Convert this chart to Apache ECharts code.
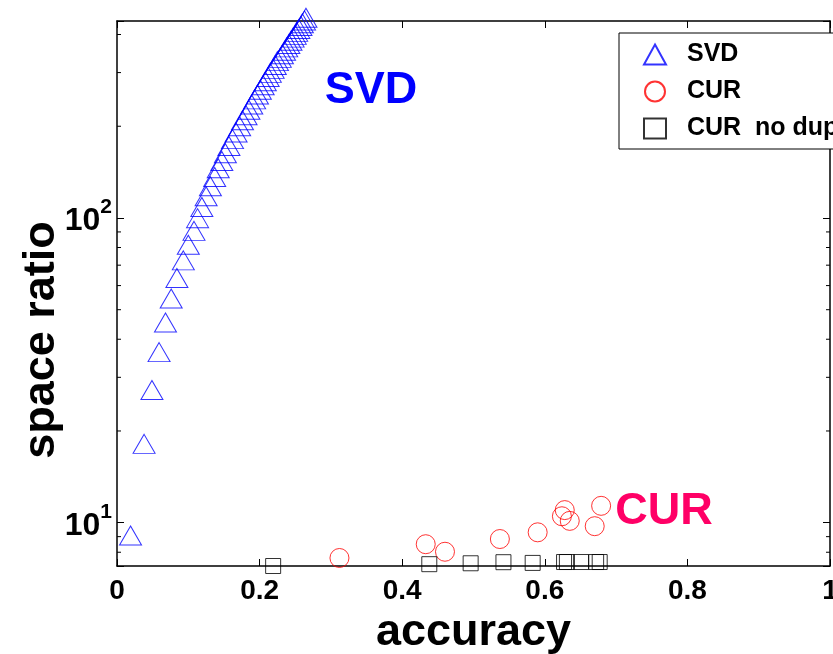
<!DOCTYPE html>
<html><head><meta charset="utf-8">
<script src="https://cdn.jsdelivr.net/npm/echarts@6/dist/echarts.min.js"></script>
<style>html,body{margin:0;padding:0;background:#fff}#c{width:833px;height:654px}</style>
</head><body><div id="c"></div>
<script>
const FONT = '"Liberation Sans", Arial, Helvetica, sans-serif';

// SVD (blue triangles)
const svdAccuracy = [0.019,0.038,0.049,0.059,0.068,0.076,0.084,0.093,0.100,0.108,
  0.113,0.119,0.125,0.131,0.137,0.142,0.147,0.152,0.157,0.162,
  0.167,0.172,0.176,0.181,0.185,0.189,0.193,0.197,0.201,0.205,
  0.208,0.212,0.215,0.219,0.222,0.225,0.229,0.232,0.235,0.238,
  0.241,0.244,0.247,0.250,0.252,0.255,0.258,0.260,0.263,0.265];
const svdRatio = [8.85,17.7,26.6,35.4,44.3,53.1,62.0,70.8,79.7,88.5,
  97.4,106,115,124,133,142,150,159,168,177,
  186,195,204,212,221,230,239,248,257,266,
  274,283,292,301,310,319,327,336,345,354,
  363,372,381,389,398,407,416,425,434,443];

// CUR (red circles)
const curAccuracy = [0.312,0.433,0.460,0.537,0.590,0.624,0.628,0.635,0.670,0.679];
const curRatio    = [7.66,8.50,8.03,8.84,9.30,10.5,11.0,10.14,9.74,11.36];

// CUR no dup (black squares)
const noDupAccuracy = [0.219,0.438,0.496,0.542,0.583,0.627,0.631,0.651,0.672,0.677];
const noDupRatio    = [7.21,7.31,7.36,7.42,7.38,7.43,7.43,7.43,7.43,7.43];

const seriesNames = ['SVD', 'CUR', 'CUR  no dup'];
const yMinorTicks = [8,9,20,30,40,50,60,70,80,90,200,300,400];
const Y_MIN = 7.21, Y_MAX = 443;

const zip = (a, b) => a.map((v, i) => [v, b[i]]);
const hollow = c => ({color: 'rgba(0,0,0,0)', borderColor: c, borderWidth: 1});
const axisLine = {show: true, onZero: false, lineStyle: {color: '#000', width: 1.5}};
const tick = {show: true, inside: true, length: 7, lineStyle: {color: '#000', width: 1}};

const chart = echarts.init(document.getElementById('c'), null, {renderer: 'canvas'});
chart.setOption({
  animation: false,
  backgroundColor: '#fff',
  grid: {left: 117, right: 3, top: 21, bottom: 88, containLabel: false, outerBoundsMode: 'none'},
  xAxis: [{
    type: 'value', min: 0, max: 1, interval: 0.2, position: 'bottom',
    axisLine, axisTick: tick, splitLine: {show: false},
    axisLabel: {margin: 11, fontSize: 28, fontWeight: 'bold', color: '#000', fontFamily: FONT},
    name: 'accuracy', nameLocation: 'middle', nameGap: 37,
    nameTextStyle: {fontSize: 45, fontWeight: 'bold', color: '#000', fontFamily: FONT}
  }, {
    type: 'value', min: 0, max: 1, interval: 0.2, position: 'top',
    axisLine, axisTick: tick, splitLine: {show: false}, axisLabel: {show: false}
  }],
  yAxis: [{
    type: 'log', min: Y_MIN, max: Y_MAX, position: 'left',
    axisLine, axisTick: tick, splitLine: {show: false},
    axisLabel: {
      margin: 5, color: '#000', fontFamily: FONT, padding: [6, 0, 0, 0],
      formatter: v => {
        const e = Math.log10(v);
        if (Math.abs(e - Math.round(e)) > 1e-6) return '';
        return '{b|10}{s|' + Math.round(e) + '}';
      },
      rich: {
        b: {fontSize: 32, fontWeight: 'bold', lineHeight: 48, color: '#000', fontFamily: FONT, verticalAlign: 'middle'},
        s: {fontSize: 21, fontWeight: 'bold', lineHeight: 21, color: '#000', fontFamily: FONT, verticalAlign: 'top'}
      }
    }
  }, {
    type: 'log', min: Y_MIN, max: Y_MAX, position: 'right',
    axisLine, axisTick: tick, splitLine: {show: false}, axisLabel: {show: false}
  }],
  legend: {
    data: seriesNames, orient: 'vertical', left: 619, top: 33,
    backgroundColor: '#fff', borderColor: '#000', borderWidth: 1,
    padding: [9, 200, 8, 24], itemGap: 12, itemWidth: 22, itemHeight: 20,
    selectedMode: false,
    textStyle: {fontSize: 25, fontWeight: 'bold', color: '#000', fontFamily: FONT, lineHeight: 24, padding: [0, 0, 0, 16]}
  },
  series: [{
    name: seriesNames[0], type: 'scatter', symbol: 'triangle', symbolSize: [22, 19],
    symbolOffset: [0, -3.3], clip: false, itemStyle: hollow('#0000ff'),
    data: zip(svdAccuracy, svdRatio)
  }, {
    name: seriesNames[1], type: 'scatter', symbol: 'circle', symbolSize: 19,
    clip: false, itemStyle: hollow('#ff0000'),
    data: zip(curAccuracy, curRatio)
  }, {
    name: seriesNames[2], type: 'scatter', symbol: 'rect', symbolSize: 15,
    clip: false, itemStyle: hollow('#000000'),
    data: zip(noDupAccuracy, noDupRatio)
  }, {
    type: 'custom', silent: true, clip: false,
    data: yMinorTicks.map(v => [0, v]),
    encode: {x: 0, y: 1},
    renderItem: (params, api) => {
      const cs = params.coordSys;
      const y = api.coord([0, api.value(1)])[1];
      return {type: 'group', children: [
        {type: 'line', shape: {x1: cs.x, y1: y, x2: cs.x + 4, y2: y}, style: {stroke: '#000', lineWidth: 1}},
        {type: 'line', shape: {x1: cs.x + cs.width - 4, y1: y, x2: cs.x + cs.width, y2: y}, style: {stroke: '#000', lineWidth: 1}}
      ]};
    }
  }],
  graphic: [
    {type: 'text', x: 371, y: 91, z: 10, style: {text: 'SVD', fill: '#0000ff', font: 'bold 45px ' + FONT, align: 'center', verticalAlign: 'middle', textAlign: 'center', textVerticalAlign: 'middle'}},
    {type: 'text', x: 664, y: 512, z: 10, style: {text: 'CUR', fill: '#ff0066', font: 'bold 45px ' + FONT, align: 'center', verticalAlign: 'middle', textAlign: 'center', textVerticalAlign: 'middle'}},
    {type: 'text', x: 42, y: 340, rotation: Math.PI / 2, z: 10, style: {text: 'space ratio', fill: '#000', font: 'bold 45px ' + FONT, align: 'center', verticalAlign: 'middle', textAlign: 'center', textVerticalAlign: 'middle'}},
    {type: 'rect', z: 100, shape: {x: 666, y: 145, width: 170, height: 3}, style: {fill: '#fff'}}
  ]
});
</script>
</body></html>
